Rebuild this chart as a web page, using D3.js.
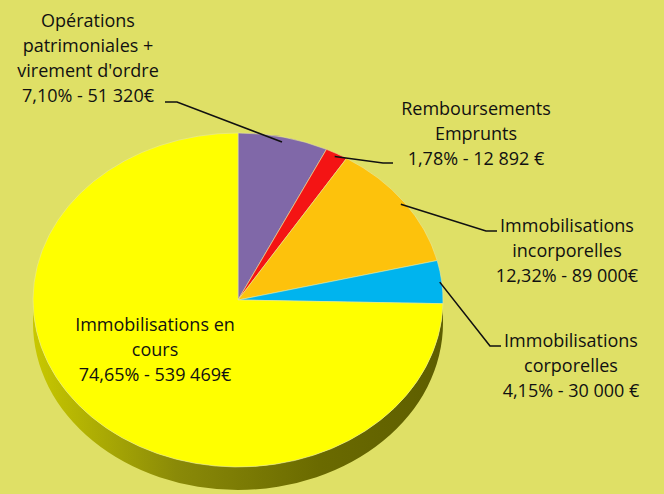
<!DOCTYPE html>
<html>
<head>
<meta charset="utf-8">
<script src="https://cdn.jsdelivr.net/npm/d3@7"></script>
<style>
  html, body { margin: 0; padding: 0; background: #dfe066; }
  svg { display: block; }
  text { font-family: "Open Sans", Lato, sans-serif; fill: #111; }
</style>
</head>
<body>
<div id="chart"></div>
<script>
// Budget d'investissement - camembert 3D

const categories = [
    "Opérations patrimoniales + virement d'ordre",
    "Remboursements Emprunts",
    "Immobilisations incorporelles",
    "Immobilisations corporelles",
    "Immobilisations en cours"
];
const values = [51320, 12892, 89000, 30000, 539469];
const percents = ["7,10%", "1,78%", "12,32%", "4,15%", "74,65%"];
const amounts = ["51 320€", "12 892 €", "89 000€", "30 000 €", "539 469€"];
const labelLines = [
    ["Opérations", "patrimoniales +", "virement d'ordre"],
    ["Remboursements", "Emprunts"],
    ["Immobilisations", "incorporelles"],
    ["Immobilisations", "corporelles"],
    ["Immobilisations en", "cours"]
];
const sliceColors = ["#8068a8", "#f41414", "#fdc20c", "#00b4ee", "#ffff00"];

const width = 664, height = 494;
const cx = 238, cy = 300;
const rx = 205, ry = 167;
const depth = 23;
const lineH = 25;

// position des étiquettes (centre du texte, ligne de base de la 1re ligne) + coude du trait
const labelLayout = [
    { x: 88, y: 27, elbow: [177, 102], end: [165, 102] },
    { x: 476, y: 115, elbow: [383, 163], end: [393, 163] },
    { x: 567, y: 232, elbow: [486, 231], end: [497, 231] },
    { x: 571, y: 347, elbow: [490, 346], end: [501, 346] },
    { x: 155, y: 331, elbow: null, end: null }
];

const svg = d3.select("#chart").append("svg")
    .attr("width", width)
    .attr("height", height);

svg.append("rect")
    .attr("width", width).attr("height", height)
    .attr("fill", "#dfe066");

// dégradé pour l'épaisseur
const defs = svg.append("defs");
const grad = defs.append("linearGradient")
    .attr("id", "side")
    .attr("x1", "0%").attr("x2", "100%").attr("y1", "0%").attr("y2", "0%");
grad.append("stop").attr("offset", "0%").attr("stop-color", "#c8c800");
grad.append("stop").attr("offset", "35%").attr("stop-color", "#8a8a08");
grad.append("stop").attr("offset", "70%").attr("stop-color", "#6a6a00");
grad.append("stop").attr("offset", "100%").attr("stop-color", "#5e5e00");

// côté du cylindre (moitié inférieure)
const sideD = `M${cx - rx},${cy} L${cx - rx},${cy + depth} ` +
    `A${rx},${ry} 0 0 0 ${cx + rx},${cy + depth} L${cx + rx},${cy} ` +
    `A${rx},${ry} 0 0 1 ${cx - rx},${cy} Z`;
svg.append("path")
    .attr("d", sideD)
    .attr("fill", "url(#side)");

// dessus du camembert
const pie = d3.pie().sort(null).value(d => d);
const arcs = pie(values);
const arc = d3.arc().innerRadius(0).outerRadius(rx);

const pieTop = svg.append("g")
    .attr("transform", `translate(${cx},${cy}) scale(1,${ry / rx})`);

pieTop.selectAll("path.slice")
    .data(arcs)
    .enter()
    .append("path")
    .attr("class", "slice")
    .attr("d", arc)
    .attr("fill", (d, i) => sliceColors[i])
    .attr("stroke", "#e8e8a0")
    .attr("stroke-width", 0.6)
    .attr("vector-effect", "non-scaling-stroke");

// traits de rappel
function pointOnSlice(d, k) {
    const a = (d.startAngle + d.endAngle) / 2;
    return [cx + Math.sin(a) * rx * k, cy - Math.cos(a) * ry * k];
}

const radFactor = [0.97, 0.98, 0.98, 0.99];
arcs.forEach((d, i) => {
    const lay = labelLayout[i];
    if (!lay.elbow) return;
    const p = pointOnSlice(d, radFactor[i]);
    svg.append("polyline")
        .attr("points", [p, lay.elbow, lay.end].map(q => q.join(",")).join(" "))
        .attr("fill", "none")
        .attr("stroke", "#111")
        .attr("stroke-width", 1.6);
});

// étiquettes
labelLayout.forEach((lay, i) => {
    const lines = labelLines[i].concat([percents[i] + " - " + amounts[i]]);
    const t = svg.append("text")
        .attr("text-anchor", "middle")
        .style("font-size", "18px");
    lines.forEach((s, j) => {
        t.append("tspan")
            .attr("x", lay.x)
            .attr("y", lay.y + j * lineH)
            .text(s);
    });
});
</script>
</body>
</html>
